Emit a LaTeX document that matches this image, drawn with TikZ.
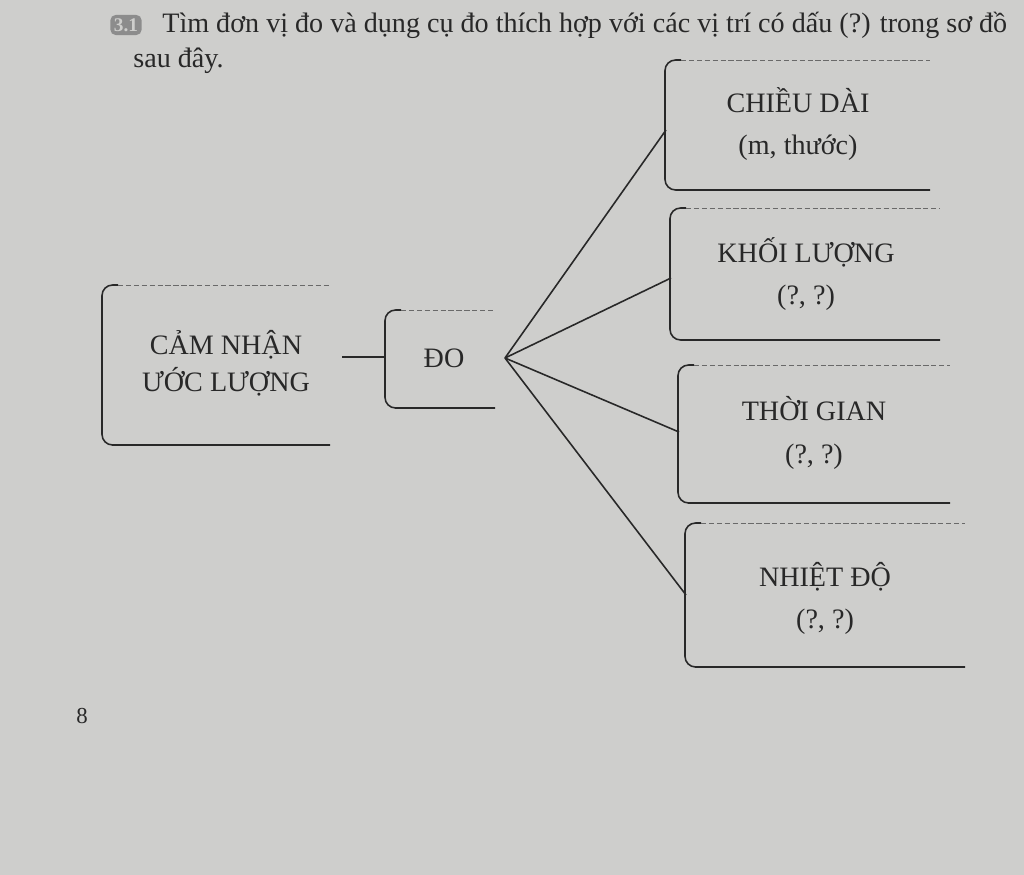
\documentclass[tikz,border=0pt]{standalone}
\usepackage{fontspec}
\setmainfont{Liberation Serif}
\usepackage{tikz}

\definecolor{paper}{RGB}{206,206,204}
\definecolor{ink}{RGB}{40,40,40}

% open box: left x, top y, bottom y, right x
\newcommand{\openbox}[4]{%
\draw[ink,line width=0.9pt,rounded corners=6pt] (#1+16,#2) -- (#1,#2) -- (#1,#3) -- (#4,#3);
\draw[ink!70,dashed,dash pattern=on 3pt off 1.5pt] (#1+16,#2) -- (#4,#2);
}

\begin{document}
\begin{tikzpicture}[x=0.02cm,y=-0.02cm,
  lbl/.style={text=ink,font=\fontsize{16}{19}\selectfont,align=center},
  fan/.style={ink,line width=0.9pt}]
\fill[paper] (0,0) rectangle (1024,875);
\useasboundingbox (0,0) rectangle (1024,875);

% heading
\node[fill=black!45,text=paper,rounded corners=3pt,inner sep=2pt,
      font=\fontsize{11}{12}\selectfont\bfseries] (badge) at (126,25) {3.1};
\node[anchor=west,text=ink,font=\fontsize{16}{18}\selectfont,inner sep=0pt]
  (title) at (162,25) {Tìm đơn vị đo và dụng cụ đo thích hợp với các vị trí có dấu (?) trong sơ đồ};
\node[anchor=west,text=ink,font=\fontsize{16}{18}\selectfont,inner sep=0pt]
  (title2) at (133,61) {sau đây.};

% boxes
\openbox{102}{285}{445}{330}
\openbox{385}{310}{408}{495}
\openbox{665}{60}{190}{930}
\openbox{670}{208}{340}{940}
\openbox{678}{365}{503}{950}
\openbox{685}{523}{667}{965}

% labels
\node[lbl] (sense) at (226,363) {CẢM NHẬN\\[2pt]ƯỚC LƯỢNG};
\node[lbl] (measure) at (444,358) {ĐO};
\node[lbl] (length) at (798,124) {CHIỀU DÀI\\[5pt](m, thước)};
\node[lbl] (mass) at (806,274) {KHỐI LƯỢNG\\[5pt](?, ?)};
\node[lbl] (time) at (814,433) {THỜI GIAN\\[5pt](?, ?)};
\node[lbl] (temp) at (825,598) {NHIỆT ĐỘ\\[5pt](?, ?)};

% connectors
\coordinate (senseR) at (342,357);
\coordinate (measureL) at (385,357);
\coordinate (hub) at (505,358);
\coordinate (lengthL) at (666,130);
\coordinate (massL) at (671,278);
\coordinate (timeL) at (679,432);
\coordinate (tempL) at (686,595);
\draw[fan] (senseR) -- (measureL);
\draw[fan] (hub) -- (lengthL);
\draw[fan] (hub) -- (massL);
\draw[fan] (hub) -- (timeL);
\draw[fan] (hub) -- (tempL);

% page number
\node[text=ink,font=\fontsize{13}{14}\selectfont] (page) at (82,716) {8};
\end{tikzpicture}
\end{document}
